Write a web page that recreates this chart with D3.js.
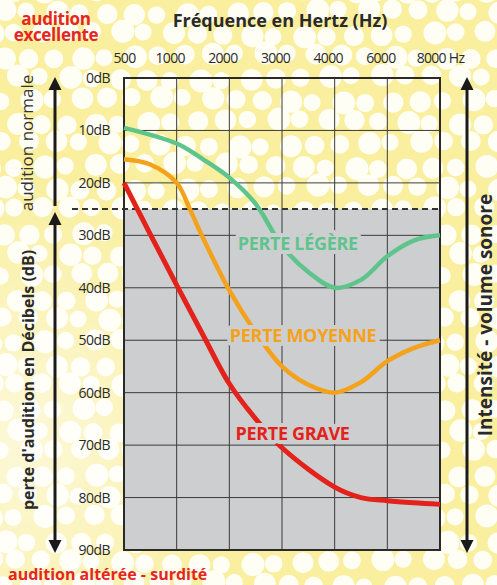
<!DOCTYPE html>
<html>
<head>
<meta charset="utf-8">
<script src="https://cdn.jsdelivr.net/npm/d3@7"></script>
<style>
  body { margin: 0; background: #fff; }
  svg { display: block; font-family: "Open Sans", "Noto Sans", sans-serif; }
</style>
</head>
<body>
<svg id="chart"></svg>
<script>
// frequences (axe du haut) et niveaux en dB (axe de gauche)
const freqs = [500, 1000, 2000, 3000, 4000, 6000, 8000];
const dbTicks = [0, 10, 20, 30, 40, 50, 60, 70, 80, 90];
const normalLimit = 25;

// courbes : [frequence, dB]
const legere = [[500, 9.5], [1000, 12.5], [1500, 15.5], [2000, 19], [2500, 24], [3000, 32],
  [3500, 37], [4000, 40], [5000, 38.5], [6000, 34], [7000, 31], [8000, 30]];
const moyenne = [[500, 15.5], [750, 16.5], [1000, 20], [1250, 25], [1500, 30.5], [2000, 40.5],
  [2500, 48.5], [3000, 55], [3500, 58.5], [4000, 60], [5000, 58], [6000, 54], [7000, 51.5], [8000, 50]];
const grave = [[500, 20], [750, 29.8], [1000, 39.5], [1500, 49], [2000, 58.3], [2500, 65],
  [3000, 70.5], [4000, 78], [5000, 80], [6000, 80.6], [7000, 81], [8000, 81.3]];

const curveNames = ["PERTE LÉGÈRE", "PERTE MOYENNE", "PERTE GRAVE"];
const curveColors = ["#5ec48c", "#f4a21c", "#e3231b"];
// position des etiquettes [frequence, dB]
const labelPos = [[3300, 31.5], [3400, 49], [3200, 67.7]];

const WIDTH = 497, HEIGHT = 585;
const PLOT = { left: 124, right: 440, top: 78, bottom: 550 };

const svg = d3.select('#chart').attr('width', WIDTH).attr('height', HEIGHT);
const defs = svg.append('defs');

// fond jaune a pois blancs
svg.append('rect').attr('width', WIDTH).attr('height', HEIGHT).attr('fill', '#f9ef9f');
const dots = svg.append('g').attr('fill', '#fffef4');
let row = 0;
for (let yy = -10; yy < HEIGHT + 20; yy += 22) {
  const off = (row % 2) * 13;
  let col = 0;
  for (let xx = -10 + off; xx < WIDTH + 20; xx += 26) {
    const k = Math.sin(row * 7.1 + col * 3.7);
    dots.append('circle')
      .attr('cx', xx + k * 3)
      .attr('cy', yy + Math.cos(row * 2.3 + col * 5.9) * 3)
      .attr('r', 10 + k * 1.5);
    col++;
  }
  row++;
}
const fade = defs.append('radialGradient').attr('id', 'fade')
  .attr('cx', 0.05).attr('cy', 0.75).attr('r', 0.45);
fade.append('stop').attr('offset', 0).attr('stop-color', '#fff').attr('stop-opacity', 0.6);
fade.append('stop').attr('offset', 1).attr('stop-color', '#fff').attr('stop-opacity', 0);
svg.append('rect').attr('width', WIDTH).attr('height', HEIGHT).attr('fill', 'url(#fade)');

const x = d3.scaleLinear()
  .domain(freqs)
  .range(freqs.map((d, i) => PLOT.left + i * (PLOT.right - PLOT.left) / (freqs.length - 1)));
const y = d3.scaleLinear()
  .domain([0, 90])
  .range([PLOT.top, PLOT.bottom]);

// zone grise (perte d'audition)
svg.append('rect')
  .attr('x', PLOT.left).attr('y', y(normalLimit))
  .attr('width', PLOT.right - PLOT.left).attr('height', y(90) - y(normalLimit))
  .attr('fill', '#cdced0');

// grille
const grid = svg.append('g').attr('stroke', '#3b3b3b').attr('stroke-width', 1);
grid.selectAll('.v').data(freqs).join('line')
  .attr('x1', d => x(d)).attr('x2', d => x(d))
  .attr('y1', PLOT.top).attr('y2', PLOT.bottom);
grid.selectAll('.h').data(dbTicks).join('line')
  .attr('x1', PLOT.left).attr('x2', PLOT.right)
  .attr('y1', d => y(d)).attr('y2', d => y(d));

// cadre
svg.append('rect')
  .attr('x', PLOT.left).attr('y', PLOT.top)
  .attr('width', PLOT.right - PLOT.left).attr('height', PLOT.bottom - PLOT.top)
  .attr('fill', 'none').attr('stroke', '#2a2a2a').attr('stroke-width', 2);

// limite audition normale
svg.append('line')
  .attr('x1', 72).attr('x2', PLOT.right)
  .attr('y1', y(normalLimit)).attr('y2', y(normalLimit))
  .attr('stroke', '#333').attr('stroke-width', 2).attr('stroke-dasharray', '6,4');

// courbes
const line = d3.line().x(d => x(d[0])).y(d => y(d[1])).curve(d3.curveCatmullRom.alpha(0.5));
[legere, moyenne, grave].forEach((c, i) => {
  svg.append('path').datum(c)
    .attr('d', line)
    .attr('fill', 'none')
    .attr('stroke', curveColors[i])
    .attr('stroke-width', i === 2 ? 5 : 4.5)
    .attr('stroke-linecap', 'butt');
});

// etiquettes des courbes
svg.append('g').selectAll('text').data(curveNames).join('text')
  .attr('x', (d, i) => x(labelPos[i][0]))
  .attr('y', (d, i) => y(labelPos[i][1]))
  .attr('text-anchor', 'middle')
  .attr('dominant-baseline', 'central')
  .attr('font-size', 18)
  .attr('font-weight', 700)
  .attr('letter-spacing', -0.3)
  .attr('fill', (d, i) => curveColors[i])
  .attr('stroke', '#cdced0')
  .attr('stroke-width', 8)
  .attr('stroke-linejoin', 'round')
  .attr('paint-order', 'stroke')
  .text(d => d);

// axe du haut
const xAxis = svg.append('g')
  .attr('transform', `translate(0,${PLOT.top})`)
  .call(d3.axisTop(x).tickValues(freqs).tickSize(0).tickPadding(15)
    .tickFormat(d => d === 8000 ? '8000 Hz' : d));
xAxis.select('.domain').remove();
xAxis.selectAll('text')
  .attr('font-family', '"Open Sans", sans-serif')
  .attr('font-size', 14)
  .attr('letter-spacing', -0.7)
  .attr('fill', '#2a2a2a')
  .attr('dx', (d, i) => (i === 0 || i === freqs.length - 1) ? 0 : -7);

// axe de gauche
const yAxis = svg.append('g')
  .attr('transform', `translate(${PLOT.left},0)`)
  .call(d3.axisLeft(y).tickValues(dbTicks).tickSize(0).tickPadding(14)
    .tickFormat(d => d + 'dB'));
yAxis.select('.domain').remove();
yAxis.selectAll('text')
  .attr('font-family', '"Open Sans", sans-serif')
  .attr('font-size', 14)
  .attr('letter-spacing', -0.5)
  .attr('fill', '#2a2a2a');

// fleches
function arrowHead(cx, tipY, dir) {
  const base = tipY + dir * 13;
  svg.append('path')
    .attr('d', `M${cx},${tipY} L${cx - 6.5},${base} L${cx + 6.5},${base} Z`)
    .attr('fill', '#1a1a1a');
}
function vline(cx, y1, y2) {
  svg.append('line').attr('x1', cx).attr('x2', cx).attr('y1', y1).attr('y2', y2)
    .attr('stroke', '#1a1a1a').attr('stroke-width', 3);
}
vline(55, 86, 206); arrowHead(55, 77, 1);
vline(55, 222, 543); arrowHead(55, 212, 1); arrowHead(55, 553, -1);
vline(467, 86, 543); arrowHead(467, 77, 1); arrowHead(467, 553, -1);

// textes
svg.append('text')
  .attr('x', 280).attr('y', 27)
  .attr('text-anchor', 'middle')
  .attr('font-size', 18).attr('font-weight', 700).attr('fill', '#2a2a2a')
  .text('Fréquence en Hertz (Hz)');

const exc = svg.append('text')
  .attr('text-anchor', 'middle')
  .attr('font-size', 17).attr('font-weight', 700).attr('fill', '#e5261f')
  .attr('letter-spacing', -0.3);
exc.append('tspan').attr('x', 56).attr('y', 25).text('audition');
exc.append('tspan').attr('x', 56).attr('y', 41).text('excellente');

svg.append('text')
  .attr('x', 8).attr('y', 580)
  .attr('font-size', 16).attr('font-weight', 700).attr('fill', '#e5261f')
  .text('audition altérée - surdité');

svg.append('text')
  .attr('transform', 'translate(33,143) rotate(-90)')
  .attr('text-anchor', 'middle')
  .attr('font-size', 17).attr('fill', '#333')
  .text('audition normale');

svg.append('text')
  .attr('transform', 'translate(34,380) rotate(-90)')
  .attr('text-anchor', 'middle')
  .attr('font-size', 16).attr('font-weight', 700).attr('fill', '#2a2a2a')
  .text("perte d'audition en Décibels (dB)");

svg.append('text')
  .attr('transform', 'translate(492,315) rotate(-90)')
  .attr('text-anchor', 'middle')
  .attr('font-size', 19).attr('font-weight', 700).attr('fill', '#2a2a2a')
  .text('Intensité - volume sonore');
</script>
</body>
</html>
